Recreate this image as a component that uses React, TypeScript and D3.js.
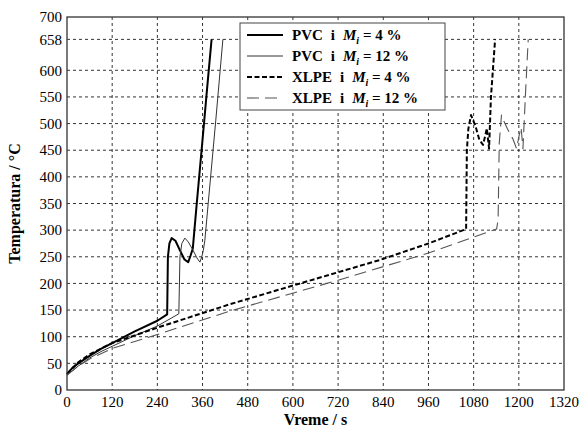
import React from "react";
import * as d3 from "d3";

const pvc4Time = [0, 15, 30, 60, 90, 120, 180, 240, 266, 268, 272, 278, 288, 300, 312, 322, 328, 334, 344, 360, 372, 384];
const pvc4Temp = [30, 42, 50, 64, 77, 88, 110, 130, 142, 250, 275, 285, 280, 262, 245, 240, 252, 265, 345, 470, 565, 658];

const pvc12Time = [0, 30, 60, 90, 120, 180, 240, 297, 300, 305, 313, 322, 335, 345, 353, 358, 362, 366, 375, 395, 414];
const pvc12Temp = [28, 45, 60, 72, 82, 102, 120, 143, 250, 275, 285, 278, 262, 248, 240, 250, 262, 280, 350, 505, 658];

const xlpe4Time = [0, 30, 60, 120, 240, 433, 619, 831, 960, 1060, 1062, 1066, 1073, 1085, 1095, 1105, 1110, 1115, 1121, 1126, 1137];
const xlpe4Temp = [30, 52, 67, 88, 117, 161, 200, 244, 275, 302, 450, 490, 516, 495, 470, 460, 475, 491, 453, 550, 658];

const xlpe12Time = [0, 30, 60, 120, 240, 300, 433, 566, 720, 960, 1080, 1141, 1145, 1148, 1154, 1160, 1170, 1185, 1194, 1200, 1206, 1211, 1218, 1225];
const xlpe12Temp = [28, 45, 58, 78, 104, 118, 148, 175, 206, 257, 287, 302, 320, 463, 516, 505, 490, 470, 453, 475, 493, 453, 560, 658];

const xTicks = [0, 120, 240, 360, 480, 600, 720, 840, 960, 1080, 1200, 1320];
const yTicks = [0, 50, 100, 150, 200, 250, 300, 350, 400, 450, 500, 550, 600, 658, 700];

const seriesNames = ["PVC", "PVC", "XLPE", "XLPE"];
const seriesMoisture = ["4 %", "12 %", "4 %", "12 %"];

const font = "'Liberation Serif', 'Times New Roman', serif";

const App = () => {
  const width = 582;
  const height = 428;
  const margin = { top: 17, right: 18, bottom: 38, left: 67 };
  const plotW = width - margin.left - margin.right;
  const plotH = height - margin.top - margin.bottom;

  const x = d3.scaleLinear().domain([0, 1320]).range([0, plotW]);
  const y = d3.scaleLinear().domain([0, 700]).range([plotH, 0]);

  const line = d3
    .line<[number, number]>()
    .x((d) => x(d[0]))
    .y((d) => y(d[1]));

  const zip = (t: number[], v: number[]) => t.map((d, i) => [d, v[i]] as [number, number]);

  const series = [
    { data: zip(pvc4Time, pvc4Temp), stroke: "#000", width: 2, dash: null },
    { data: zip(pvc12Time, pvc12Temp), stroke: "#333", width: 1, dash: null },
    { data: zip(xlpe4Time, xlpe4Temp), stroke: "#000", width: 2, dash: "5,2.5" },
    { data: zip(xlpe12Time, xlpe12Temp), stroke: "#555", width: 1.1, dash: "12,6" },
  ];

  return (
    <svg
      width={width}
      height={height}
      style={{ position: "absolute", left: 0, top: 0, background: "#fff" }}
      fontFamily={font}
    >
      <g transform={`translate(${margin.left},${margin.top})`}>
        {/* grid */}
        {xTicks.slice(1, -1).map((t) => (
          <line key={"gx" + t} x1={x(t)} x2={x(t)} y1={0} y2={plotH} stroke="#000" strokeWidth={0.8} strokeDasharray="3,3" />
        ))}
        {yTicks.slice(1, -1).map((t) => (
          <line key={"gy" + t} x1={0} x2={plotW} y1={y(t)} y2={y(t)} stroke="#000" strokeWidth={0.8} strokeDasharray="3,3" />
        ))}

        {/* curves */}
        {series.map((s, i) => (
          <path
            key={i}
            d={line(s.data) || ""}
            fill="none"
            stroke={s.stroke}
            strokeWidth={s.width}
            strokeDasharray={s.dash || undefined}
            strokeLinejoin="round"
          />
        ))}

        {/* frame */}
        <rect x={0} y={0} width={plotW} height={plotH} fill="none" stroke="#333" strokeWidth={1.3} />

        {/* tick labels */}
        {xTicks.map((t) => (
          <text key={"tx" + t} x={x(t)} y={plotH + 17} textAnchor="middle" fontSize={15}>
            {t}
          </text>
        ))}
        {yTicks.map((t) => (
          <text key={"ty" + t} x={-5} y={y(t)} dy="0.35em" textAnchor="end" fontSize={15}>
            {t}
          </text>
        ))}

        {/* legend */}
        <g transform="translate(173,6)">
          <rect x={0} y={0} width={205} height={87} fill="#fff" stroke="#444" strokeWidth={1} />
          {series.map((s, i) => (
            <g key={"lg" + i} transform={`translate(0,${12 + i * 21})`}>
              <line x1={7} x2={43} y1={0} y2={0} stroke={s.stroke} strokeWidth={s.width} strokeDasharray={s.dash || undefined} />
              <text x={52} y={0} dy="0.35em" fontSize={15} fontWeight="bold">
                {seriesNames[i]}
                <tspan dx={8}>i</tspan>
                <tspan dx={8} fontStyle="italic">M</tspan>
                <tspan fontStyle="italic" fontSize={10} dy={4}>i</tspan>
                <tspan dy={-4}>{" = " + seriesMoisture[i]}</tspan>
              </text>
            </g>
          ))}
        </g>
      </g>

      {/* axis titles */}
      <text x={margin.left + plotW / 2} y={425} textAnchor="middle" fontSize={16} fontWeight="bold">
        Vreme / s
      </text>
      <text
        transform={`translate(20,${margin.top + plotH / 2}) rotate(-90)`}
        textAnchor="middle"
        fontSize={16}
        fontWeight="bold"
      >
        Temperatura / °C
      </text>
    </svg>
  );
};

export default App;
